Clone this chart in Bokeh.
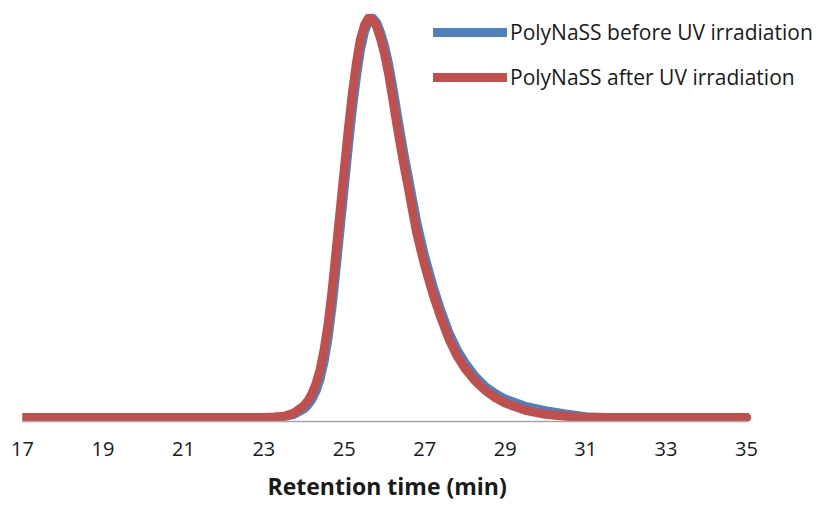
from bokeh.plotting import figure
from bokeh.models import Range1d, FixedTicker, Legend, LegendItem, Title
from bokeh.embed import file_html
from bokeh.resources import INLINE

# Retention time (min) and normalized detector response
time_before = [17, 23.0, 23.25, 23.5, 23.75, 24.0, 24.1, 24.2, 24.3, 24.4, 24.5, 24.6, 24.7, 24.8, 24.9,
               25.0, 25.1, 25.2, 25.3, 25.4, 25.5, 25.6, 25.7, 25.8, 25.9, 26.0, 26.1, 26.2, 26.3,
               26.4, 26.5, 26.6, 26.7, 26.8, 26.9, 27.0, 27.2, 27.4, 27.6, 27.8, 28.0, 28.25, 28.5,
               28.75, 29.0, 29.5, 30.0, 30.5, 31.0, 31.5, 35]
signal_before = [0, 0, 0.0, 0.002, 0.008, 0.022, 0.032, 0.046, 0.067, 0.097, 0.14, 0.2, 0.28, 0.375,
                 0.475, 0.575, 0.675, 0.77, 0.85, 0.918, 0.963, 0.99, 0.999, 0.988, 0.963, 0.93,
                 0.885, 0.83, 0.768, 0.708, 0.65, 0.597, 0.543, 0.49, 0.445, 0.403, 0.33, 0.268,
                 0.213, 0.17, 0.137, 0.103, 0.078, 0.06, 0.046, 0.028, 0.017, 0.009, 0.002, 0, 0]

time_after = [17, 23.0, 23.25, 23.5, 23.75, 24.0, 24.1, 24.2, 24.3, 24.4, 24.5, 24.6, 24.7, 24.8, 24.9,
              25.0, 25.1, 25.2, 25.3, 25.4, 25.5, 25.6, 25.7, 25.8, 25.9, 26.0, 26.1, 26.2, 26.3,
              26.4, 26.5, 26.6, 26.7, 26.8, 26.9, 27.0, 27.2, 27.4, 27.6, 27.8, 28.0, 28.25, 28.5,
              28.75, 29.0, 29.5, 30.0, 30.5, 31.0, 35]
signal_after = [0, 0, 0.001, 0.003, 0.011, 0.03, 0.042, 0.06, 0.085, 0.12, 0.17, 0.235, 0.32, 0.42,
                0.52, 0.62, 0.72, 0.81, 0.885, 0.945, 0.98, 0.998, 0.995, 0.978, 0.948, 0.91, 0.86,
                0.80, 0.737, 0.678, 0.622, 0.57, 0.515, 0.462, 0.42, 0.38, 0.31, 0.25, 0.197, 0.155,
                0.123, 0.092, 0.068, 0.05, 0.036, 0.018, 0.008, 0.003, 0, 0]

x_ticks = [17, 19, 21, 23, 25, 27, 29, 31, 33, 35]
series_names = ["PolyNaSS before UV irradiation", "PolyNaSS after UV irradiation"]
x_title = "Retention time (min)"
colors = ["#4F81BD", "#C0504D"]

FONT = "Open Sans"

p = figure(width=818, height=511, output_backend="svg", toolbar_location=None,
           x_range=Range1d(17, 36.79), y_range=Range1d(-0.01, 1.01),
           min_border_left=22, min_border_right=0, min_border_top=13, min_border_bottom=90)
p.outline_line_color = None
p.xgrid.visible = False
p.ygrid.visible = False
p.yaxis.visible = False
p.background_fill_color = "white"
p.border_fill_color = "white"

r1 = p.line(time_before, signal_before, line_color=colors[0], line_width=9,
            line_join="round", line_cap="round")
r2 = p.line(time_after, signal_after, line_color=colors[1], line_width=9,
            line_join="round", line_cap="round")

ax = p.xaxis[0]
ax.bounds = (x_ticks[0], x_ticks[-1])
ax.ticker = FixedTicker(ticks=x_ticks)
ax.axis_line_color = "#A6A6A6"
ax.axis_line_width = 1.5
ax.major_tick_line_color = None
ax.minor_tick_line_color = None
ax.major_tick_out = 0
ax.major_label_standoff = 20
ax.major_label_text_font = FONT
ax.major_label_text_font_size = "20px"
ax.major_label_text_color = "#1a1a1a"

title = Title(text=x_title, align="left", offset=245, standoff=18, vertical_align="bottom",
              text_font=FONT, text_font_size="23px", text_font_style="bold",
              text_color="#1a1a1a")
p.add_layout(title, "below")

legend = Legend(items=[LegendItem(label=series_names[0], renderers=[r1]),
                       LegendItem(label=series_names[1], renderers=[r2])],
                location=(411, 330), orientation="vertical")
legend.background_fill_alpha = 0
legend.border_line_color = None
legend.padding = 0
legend.margin = 0
legend.spacing = 17
legend.glyph_width = 74
legend.glyph_height = 20
legend.label_height = 20
legend.label_standoff = 3
legend.label_text_font = FONT
legend.label_text_font_size = "21px"
legend.label_text_color = "#1a1a1a"
legend.label_text_baseline = "middle"
p.add_layout(legend, "center")

open("out.html", "w").write(file_html(p, INLINE))
